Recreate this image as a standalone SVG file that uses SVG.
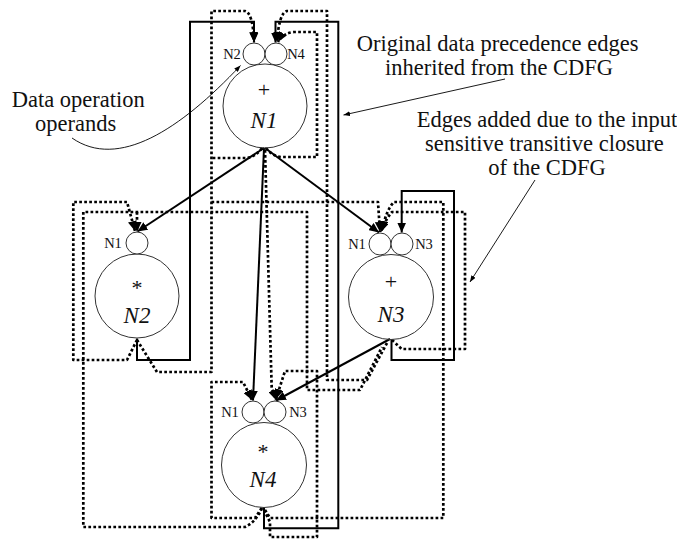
<svg xmlns="http://www.w3.org/2000/svg" width="677" height="540" viewBox="0 0 677 540">
<defs>
<marker id="ah" markerUnits="userSpaceOnUse" markerWidth="11" markerHeight="9" refX="10" refY="4.5" orient="auto"><path d="M0,0 L10,4.5 L0,9 z" fill="#000"/></marker>
<marker id="ahs" markerUnits="userSpaceOnUse" markerWidth="7" markerHeight="5" refX="6.5" refY="2.5" orient="auto"><path d="M0,0 L6.5,2.5 L0,5 z" fill="#000"/></marker>
<style>
.op{fill:#fff;stroke:#333;stroke-width:1}
.main{fill:none;stroke:#333;stroke-width:1}
.sl{font-family:"Liberation Serif",Times,serif;font-size:14.5px;fill:#111;text-anchor:middle}
.sym{font-family:"Liberation Serif",Times,serif;font-size:22px;fill:#111;text-anchor:middle}
.nm{font-family:"Liberation Serif",Times,serif;font-size:23px;font-style:italic;fill:#111;text-anchor:middle}
.ann{font-family:"Liberation Serif",Times,serif;font-size:22.5px;fill:#111}
.solid{fill:none;stroke:#000;stroke-width:2;stroke-linejoin:miter}
.dot{fill:none;stroke:#000;stroke-width:2.7;stroke-dasharray:2.7 2.3;stroke-linejoin:round}
.lead{fill:none;stroke:#000;stroke-width:0.9}
</style>
</defs>
<rect width="677" height="540" fill="#fff"/>

<g id="connectors">
<!-- dotted transitive closure edges -->
<path class="dot" d="M137,340 L157,372 L211.5,372 L211.5,11 L245,11 Q253,13 254,42" marker-end="url(#ah)"/>
<path class="dot" d="M262,148 Q255,157 247,158 L211.5,158"/>
<path class="dot" d="M211.5,202 L378,202 L380,232" marker-end="url(#ah)"/>
<path class="dot" d="M137,340 L127,360 L73.3,360 L73.3,202 L127,202 L135,231" marker-end="url(#ah)"/>
<path class="dot" d="M262,508 Q256,522 245,527 L83.3,527 L83.3,212 L307,212 L307,390 L360,390 L382,347"/>
<path class="dot" d="M137,212 L137,232" marker-end="url(#ah)"/>
<path class="dot" d="M387,343 L367,380 L327,380 L327,11 L287,11 Q279,13 277,42" marker-end="url(#ah)"/>
<path class="dot" d="M266,148 Q272,156 281,157 L317,157 L317,32 L294,32 Q283,33 278,42" marker-end="url(#ah)"/>
<path class="dot" d="M265,150 L271.7,388 L276,400" marker-end="url(#ah)"/>
<path class="dot" d="M265,510 L270,518 L443.3,518 L443.3,202 L394,202 Q386,210 382,231" marker-end="url(#ah)"/>
<path class="dot" d="M392,340 L401.7,349 L465,349 L465,212 L392,212 Q385,220 381,232" marker-end="url(#ah)"/>
<path class="dot" d="M261.7,508 L255,518 L211.5,518 L211.5,382 L243,382 L252,400" marker-end="url(#ah)"/>
<path class="dot" d="M264,510 L270,522 L270,537 L317,537 L317,371 L285,371 L276,399" marker-end="url(#ah)"/>
<!-- solid original precedence edges -->
<path class="solid" d="M264,148 L137.5,231.5" marker-end="url(#ah)"/>
<path class="solid" d="M265,148 L379,232.5" marker-end="url(#ah)"/>
<path class="solid" d="M264,148 L253,400.5" marker-end="url(#ah)"/>
<path class="solid" d="M390,339 L276,400.5" marker-end="url(#ah)"/>
<path class="solid" d="M137,338.5 L137,360 L190,360 L190,21.7 L254,21.7 L254,42.5" marker-end="url(#ah)"/>
<path class="solid" d="M264,507.5 L264,528.3 L338.3,528.3 L338.3,21.7 L275.5,21.7 L275.5,42.5" marker-end="url(#ah)"/>
<path class="solid" d="M391.5,339.5 L391.5,360 L454,360 L454,191 L401.7,191 L401.7,232.5" marker-end="url(#ah)"/>
<!-- annotation leaders -->
<path class="lead" d="M72,138 C118,170 180,130 240.5,65.5" marker-end="url(#ahs)"/>
<path class="lead" d="M505,79 L343.5,115" marker-end="url(#ahs)"/>
<path class="lead" d="M535,180 L470,282" marker-end="url(#ahs)"/>
</g>

<g id="N1">
<circle class="main" cx="265" cy="106" r="42"/>
<circle class="op" cx="254" cy="54" r="11"/>
<circle class="op" cx="276" cy="54" r="11"/>
<text class="sl" x="232" y="59">N2</text>
<text class="sl" x="296" y="59">N4</text>
<text class="sym" x="264" y="97">+</text>
<text class="nm" x="264" y="128">N1</text>
</g>

<g id="N2">
<circle class="main" cx="137" cy="296" r="42"/>
<circle class="op" cx="137" cy="243" r="11"/>
<text class="sl" x="113" y="248">N1</text>
<text class="sym" x="137" y="295">*</text>
<text class="nm" x="137" y="322.5">N2</text>
</g>

<g id="N3">
<circle class="main" cx="391" cy="297" r="42.5"/>
<circle class="op" cx="380" cy="244" r="11"/>
<circle class="op" cx="402" cy="244" r="11"/>
<text class="sl" x="357" y="249">N1</text>
<text class="sl" x="424" y="249">N3</text>
<text class="sym" x="391" y="289">+</text>
<text class="nm" x="391" y="321.5">N3</text>
</g>

<g id="N4">
<circle class="main" cx="264" cy="465" r="42.5"/>
<circle class="op" cx="253" cy="412" r="11"/>
<circle class="op" cx="275" cy="412" r="11"/>
<text class="sl" x="230" y="417">N1</text>
<text class="sl" x="298" y="417">N3</text>
<text class="sym" x="263" y="459">*</text>
<text class="nm" x="263" y="486.5">N4</text>
</g>

<g id="labels">
<text class="ann" x="11.7" y="107">Data operation</text>
<text class="ann" x="35" y="131">operands</text>
<text class="ann" x="356.7" y="51">Original data precedence edges</text>
<text class="ann" x="385" y="75">inherited from the CDFG</text>
<text class="ann" x="416.7" y="127">Edges added due to the input</text>
<text class="ann" x="425" y="151">sensitive transitive closure</text>
<text class="ann" x="488.3" y="175">of the CDFG</text>
</g>
</svg>
